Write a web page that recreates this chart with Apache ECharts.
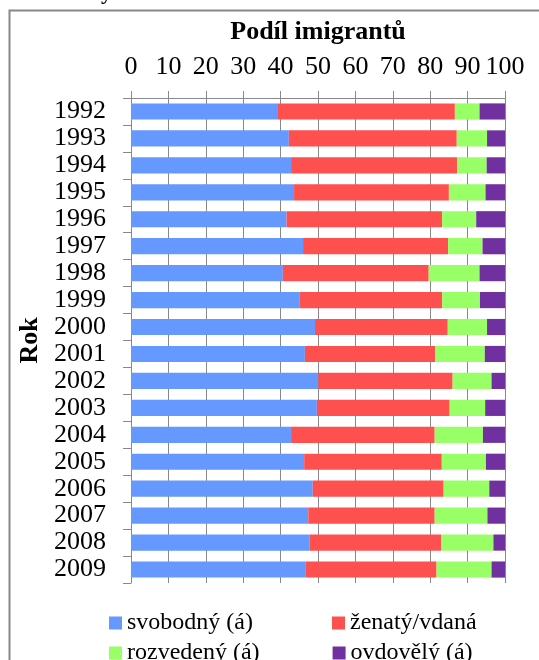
<!DOCTYPE html>
<html>
<head>
<meta charset="utf-8">
<script src="https://cdn.jsdelivr.net/npm/echarts@6/dist/echarts.min.js"></script>
<style>
  html, body { margin: 0; padding: 0; background: #fff; }
  #main { width: 539px; height: 660px; }
</style>
</head>
<body>
<div id="main"></div>
<script>
// roky (kategorie osy y)
var years = ['1992', '1993', '1994', '1995', '1996', '1997', '1998', '1999', '2000',
             '2001', '2002', '2003', '2004', '2005', '2006', '2007', '2008', '2009'];

// podíly v %
var svobodny = [39.3, 42.2, 42.8, 43.6, 41.6, 46.0, 40.6, 45.0, 49.2, 46.5, 50.1, 49.7, 42.8, 46.3, 48.6, 47.4, 47.8, 46.6];
var zenaty   = [47.3, 44.9, 44.4, 41.4, 41.6, 38.8, 39.0, 38.2, 35.5, 34.8, 35.9, 35.5, 38.4, 36.8, 35.0, 33.8, 35.1, 35.1];
var rozveden = [6.6, 8.1, 7.9, 9.8, 9.1, 9.2, 13.6, 10.1, 10.5, 13.3, 10.4, 9.5, 12.9, 11.8, 12.2, 14.1, 14.0, 14.7];
var ovdovely = [6.8, 4.8, 4.9, 5.2, 7.7, 6.0, 6.8, 6.7, 4.8, 5.4, 3.6, 5.3, 5.9, 5.1, 4.2, 4.7, 3.1, 3.6];

var names = ['svobodný (á)', 'ženatý/vdaná', 'rozvedený (á)', 'ovdovělý (á)'];
var colors = ['#6699ff', '#ff5050', '#99ff66', '#7030a0'];

var serif = '"Liberation Serif", "DejaVu Serif", serif';
var gray = '#888888';

var myChart = echarts.init(document.getElementById('main'));

function barSeries(i, data) {
    return {
        name: names[i],
        type: 'bar',
        stack: 'total',
        data: data,
        barCategoryGap: '40%',
        itemStyle: { color: colors[i] },
        animation: false
    };
}

// jeden řádek legendy = dvě položky
function legendRow(top, items, gap) {
    return {
        orient: 'horizontal',
        left: 104,
        top: top,
        icon: 'rect',
        itemWidth: 13,
        itemHeight: 13,
        itemGap: gap,
        data: items,
        textStyle: { fontFamily: serif, fontSize: 24, color: '#000' }
    };
}

myChart.setOption({
    animation: false,
    grid: { left: 131, right: 34, top: 98, bottom: 77 },
    legend: [
        legendRow(606, [names[0], names[1]], 79),
        legendRow(636, [names[2], names[3]], 73)
    ],
    xAxis: {
        type: 'value',
        position: 'top',
        min: 0,
        max: 100,
        interval: 10,
        name: 'Podíl imigrantů',
        nameLocation: 'middle',
        nameGap: 53,
        nameTextStyle: { fontFamily: serif, fontSize: 26, fontWeight: 'bold', color: '#000' },
        axisLine: { show: true, lineStyle: { color: gray, width: 1 } },
        axisTick: { show: true, length: 7, lineStyle: { color: gray } },
        axisLabel: { fontFamily: serif, fontSize: 26, color: '#000', margin: 18 },
        splitLine: { show: true, lineStyle: { color: gray, width: 1 } }
    },
    yAxis: {
        type: 'category',
        inverse: true,
        data: years,
        name: 'Rok',
        nameLocation: 'middle',
        nameRotate: 90,
        nameGap: 84,
        nameTextStyle: { fontFamily: serif, fontSize: 26, fontWeight: 'bold', color: '#000' },
        axisLine: { show: true, lineStyle: { color: gray, width: 1 } },
        axisTick: { show: true, length: 8, lineStyle: { color: gray } },
        axisLabel: { fontFamily: serif, fontSize: 26, color: '#000', margin: 25, interval: 0 }
    },
    series: [
        barSeries(0, svobodny),
        barSeries(1, zenaty),
        barSeries(2, rozveden),
        barSeries(3, ovdovely)
    ],
    graphic: [
        {
            type: 'rect',
            shape: { x: 9.5, y: 10.5, width: 545, height: 670 },
            style: { fill: 'none', stroke: gray, lineWidth: 2 },
            silent: true
        },
        {
            type: 'text',
            left: 101,
            top: -18,
            style: { text: 'y', font: 'bold 22px ' + serif, fill: '#000' },
            silent: true
        }
    ]
});
</script>
</body>
</html>
